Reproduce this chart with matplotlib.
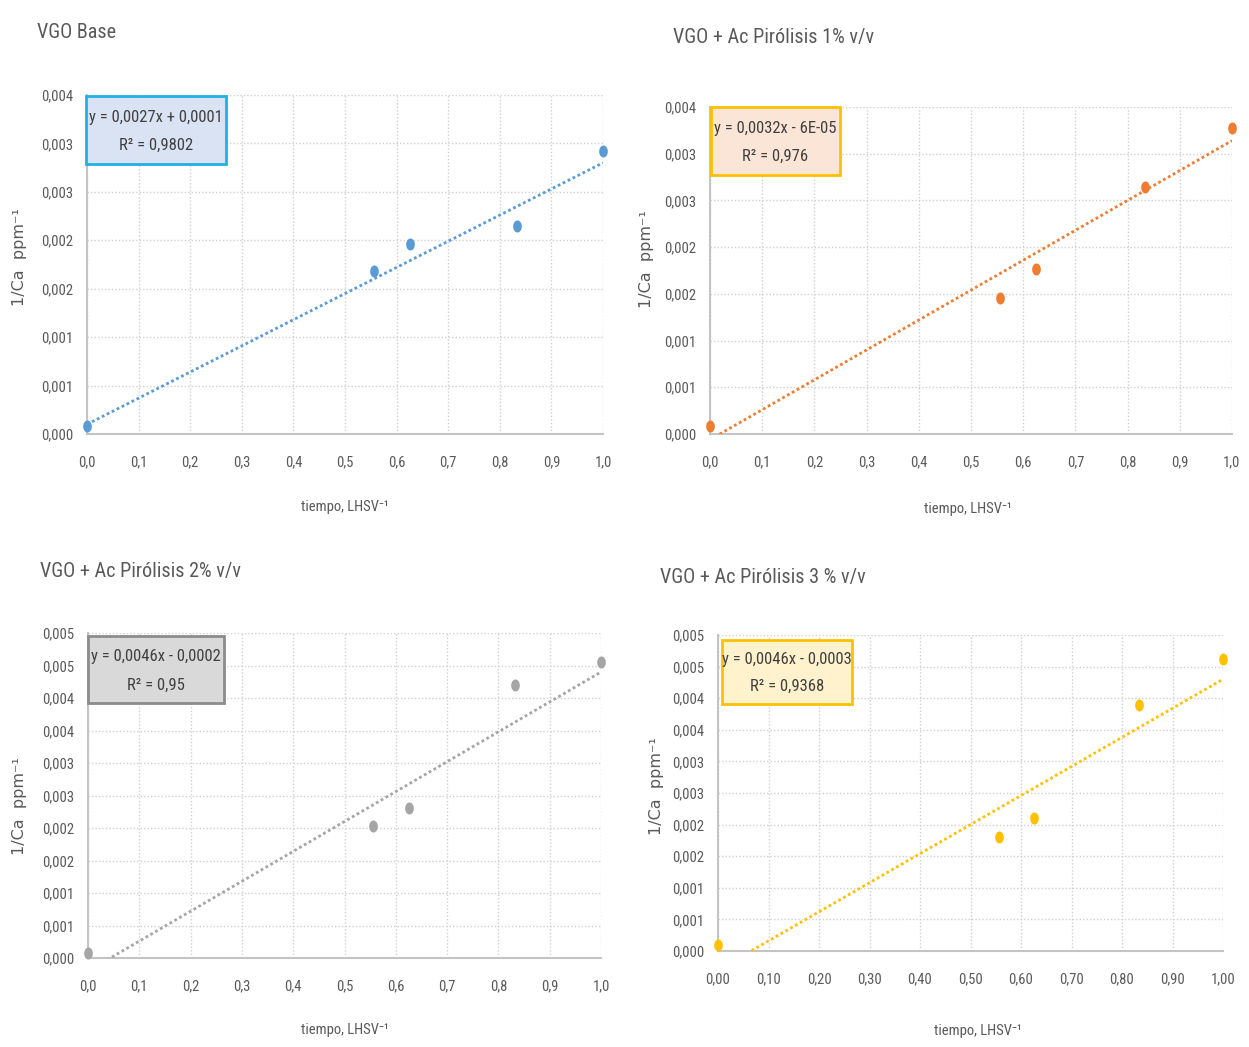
import numpy as np
import matplotlib
matplotlib.use("Agg")
import matplotlib.pyplot as plt
import matplotlib.font_manager as fm
from matplotlib.patches import Rectangle
from matplotlib.path import Path

# ---- data -------------------------------------------------------------
x_tiempo = [0.0, 0.556, 0.625, 0.833, 1.0]

y_base = [0.00008, 0.00168, 0.00196, 0.00215, 0.00292]
y_p1 = [0.00009, 0.00146, 0.00177, 0.00264, 0.00328]
y_p2 = [0.00008, 0.00203, 0.00231, 0.00420, 0.00455]
y_p3 = [0.00010, 0.00180, 0.00210, 0.00390, 0.00462]

titles = ["VGO Base", "VGO + Ac Pirólisis 1% v/v",
          "VGO + Ac Pirólisis 2% v/v", "VGO + Ac Pirólisis 3 % v/v"]

slopes = [0.0027, 0.0032, 0.0046, 0.0046]
intercepts = [0.0001, -0.00006, -0.0002, -0.0003]
eq_texts = ["y = 0,0027x + 0,0001", "y = 0,0032x - 6E-05",
            "y = 0,0046x - 0,0002", "y = 0,0046x - 0,0003"]
r2_texts = ["R² = 0,9802", "R² = 0,976", "R² = 0,95", "R² = 0,9368"]

x_ticks = [0.0, 0.1, 0.2, 0.3, 0.4, 0.5, 0.6, 0.7, 0.8, 0.9, 1.0]
x_labels_1dec = ["0,0", "0,1", "0,2", "0,3", "0,4", "0,5", "0,6", "0,7", "0,8", "0,9", "1,0"]
x_labels_2dec = ["0,00", "0,10", "0,20", "0,30", "0,40", "0,50", "0,60", "0,70", "0,80", "0,90", "1,00"]

y_ticks_small = [0.0, 0.0005, 0.001, 0.0015, 0.002, 0.0025, 0.003, 0.0035]
y_labels_small = ["0,000", "0,001", "0,001", "0,002", "0,002", "0,003", "0,003", "0,004"]
y_ticks_big = [0.0, 0.0005, 0.001, 0.0015, 0.002, 0.0025, 0.003, 0.0035, 0.004, 0.0045, 0.005]
y_labels_big = ["0,000", "0,001", "0,001", "0,002", "0,002", "0,003", "0,003",
                "0,004", "0,004", "0,005", "0,005"]

# ---- font: prefer a narrow/condensed sans face -------------------------
def pick_narrow_font():
    entries = fm.fontManager.ttflist
    names = {f.name for f in entries}
    for n in ["Liberation Sans Narrow", "Arial Narrow", "Roboto Condensed",
              "Open Sans Condensed", "DejaVu Sans Condensed",
              "Noto Sans Condensed", "Noto Sans SemiCondensed"]:
        if n in names:
            return n, "normal", True
    for fam in ["Open Sans", "Noto Sans", "Roboto", "DejaVu Sans", "Lato", "Inter"]:
        for st in ["condensed", "semi-condensed"]:
            for f in entries:
                if (f.name == fam and str(f.stretch) == st and f.style == "normal"
                        and f.weight in (400, "normal", "regular")):
                    return fam, st, True
    return "Liberation Sans", "normal", False


FONT_NAME, FONT_STRETCH, IS_NARROW = pick_narrow_font()
plt.rcParams["font.family"] = [FONT_NAME, "DejaVu Sans"]
plt.rcParams["font.stretch"] = FONT_STRETCH
k = 1.0 if IS_NARROW else 0.86

# ---- styling ----------------------------------------------------------
W, H = 1249, 1047
colors = ["#5b9bd5", "#ed7d31", "#a5a5a5", "#ffc000"]
box_fill = ["#dae3f3", "#fbe5d6", "#d9d9d9", "#fff2cc"]
box_edge = ["#1fb0e8", "#ffc000", "#8c8c8c", "#ffc000"]
txt = "#595959"

# axes rectangles in pixels: left, top, right, bottom
ax_px = [(87, 95, 603, 434), (710, 107, 1232, 434),
         (88, 633, 601, 958), (718, 635, 1223, 951)]
title_px = [(37, 32), (673, 38), (40, 571), (660, 577)]
xlabel_px = [(345, 507), (968, 509), (345, 1030), (978, 1031)]
ylabel_px = [(20, 257), (646, 259), (20, 806), (657, 786)]
box_px = [(86, 96, 226, 164), (711, 107, 840, 175),
          (88, 636, 224, 703), (722, 640, 852, 704)]

ys = [y_base, y_p1, y_p2, y_p3]
yticks = [y_ticks_small, y_ticks_small, y_ticks_big, y_ticks_big]
ylabels = [y_labels_small, y_labels_small, y_labels_big, y_labels_big]
xlabels = [x_labels_1dec, x_labels_1dec, x_labels_1dec, x_labels_2dec]

# tall ellipse marker
t = np.linspace(0, 2 * np.pi, 40)
ell = Path(np.column_stack([0.72 * np.cos(t), np.sin(t)]), closed=True)

fig = plt.figure(figsize=(W / 100, H / 100), dpi=100)
fig.patch.set_facecolor("white")


def fx(px):
    return px / W


def fy(py):
    return 1 - py / H


for i in range(4):
    l, tp, r, b = ax_px[i]
    ax = fig.add_axes([fx(l), fy(b), (r - l) / W, (b - tp) / H])
    ax.set_xlim(0, 1.0)
    ax.set_ylim(yticks[i][0], yticks[i][-1])
    ax.set_xticks(x_ticks)
    ax.set_xticklabels(xlabels[i])
    ax.set_yticks(yticks[i])
    ax.set_yticklabels(ylabels[i])
    ax.tick_params(length=0, labelsize=10.5 * k, labelcolor=txt)
    ax.tick_params(axis="x", pad=15)
    ax.tick_params(axis="y", pad=10)
    ax.grid(True, color="#d0d0d0", linestyle=(0, (1, 1.5)), linewidth=1.0)
    ax.set_axisbelow(True)
    for s in ["top", "right"]:
        ax.spines[s].set_visible(False)
    for s in ["left", "bottom"]:
        ax.spines[s].set_color("#c4c4c4")
        ax.spines[s].set_linewidth(1.5)

    # trend line from the fitted equation
    xl = np.linspace(0, 1, 200)
    ax.plot(xl, slopes[i] * xl + intercepts[i], color=colors[i],
            linestyle=(0, (1, 1)), linewidth=2.0, zorder=3)
    ax.scatter(x_tiempo, ys[i], marker=ell, s=75, color=colors[i],
               zorder=4, clip_on=False, linewidths=0)

    # equation box
    bl, bt, br, bb = box_px[i]
    fig.add_artist(Rectangle((fx(bl), fy(bb)), (br - bl) / W, (bb - bt) / H,
                             transform=fig.transFigure, facecolor=box_fill[i],
                             edgecolor=box_edge[i], linewidth=2, zorder=5))
    cx = (bl + br) / 2
    h = bb - bt
    fig.text(fx(cx), fy(bt + h * 0.31), eq_texts[i], ha="center", va="center",
             fontsize=12 * k, color="#404040", zorder=6)
    fig.text(fx(cx), fy(bt + h * 0.73), r2_texts[i], ha="center", va="center",
             fontsize=12 * k, color="#404040", zorder=6)

    fig.text(fx(title_px[i][0]), fy(title_px[i][1]), titles[i], ha="left",
             va="center", fontsize=14.5 * k, color=txt)
    fig.text(fx(xlabel_px[i][0]), fy(xlabel_px[i][1]), "tiempo, LHSV⁻¹",
             ha="center", va="center", fontsize=10.5 * k, color=txt)
    fig.text(fx(ylabel_px[i][0]), fy(ylabel_px[i][1]), "1/Ca  ppm⁻¹",
             ha="center", va="center", rotation=90, fontsize=11.5,
             color=txt, family=["DejaVu Sans"], stretch="normal")

fig.savefig("out.png", dpi=100, facecolor="white")
